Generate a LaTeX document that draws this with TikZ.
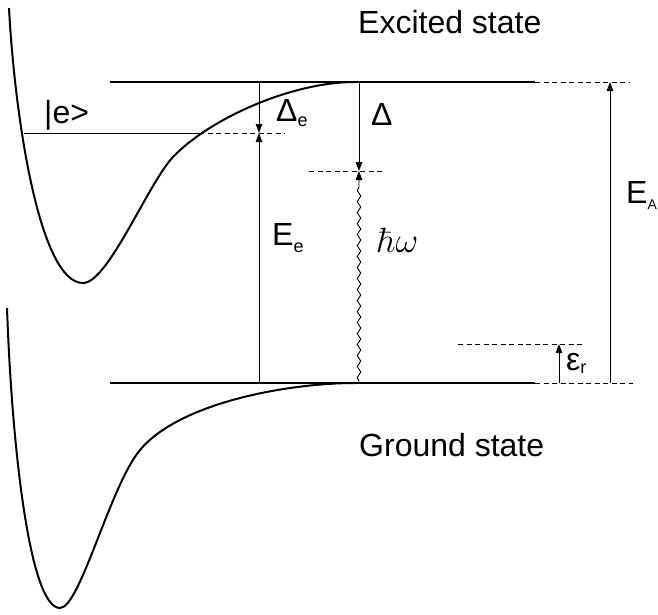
\documentclass[tikz,border=0pt]{standalone}
\usepackage[no-math]{fontspec}
\setmainfont{Liberation Sans}
\usepackage{tikz}
\usetikzlibrary{arrows.meta,decorations.pathmorphing}

\begin{document}
\begin{tikzpicture}[
        x=1pt, y=-1pt,
        level/.style={
            line width=2.2pt
        },
        potential/.style={
            line width=2pt
        },
        thinline/.style={
            line width=0.9pt
        },
        guide/.style={
            line width=0.9pt,
            dash pattern=on 5pt off 3.5pt
        },
        arrow/.style={
            -{Triangle[length=9pt,width=6.5pt]},
            line width=0.9pt
        },
        wave/.style={
            decorate,
            decoration={snake, amplitude=1.8pt, segment length=11pt,
                pre length=2pt, post length=13pt}
        },
        label/.style={
            font=\fontsize{32}{36}\selectfont,
            inner sep=0pt,
            anchor=base west
        }
    ]
        \useasboundingbox (0,0) rectangle (658,614);

        % levels
        \coordinate (exleft) at (110,82);
        \coordinate (exright) at (535,82);
        \coordinate (exend) at (630,82);
        \coordinate (gsleft) at (110,383);
        \coordinate (gsright) at (535,383);
        \coordinate (gsend) at (633,383);

        \draw[level] (exleft) -- (exright);
        \draw[level] (gsleft) -- (gsright);
        \draw[guide] (exright) -- (exend);
        \draw[guide] (gsright) -- (gsend);

        % potential curves
        \draw[potential] (9,8) .. controls (15,120) and (40,283) .. (83,283)
            .. controls (108,283) and (148,183.5) .. (173,157)
            .. controls (208,120) and (290,82) .. (355,82);
        \draw[potential] (7,308) .. controls (12,450) and (30,608) .. (60,608)
            .. controls (80,608) and (110,486) .. (140,450)
            .. controls (180,402) and (290,383) .. (355,383);

        % |e> level
        \coordinate (ewall) at (24,133);
        \coordinate (ecross) at (199,133);
        \coordinate (eend) at (285,133);
        \draw[thinline] (ewall) -- (ecross);
        \draw[guide] (ecross) -- (eend);

        % Delta_e and E_e
        \coordinate (detop) at (259,82);
        \coordinate (demid) at (259,133);
        \coordinate (debot) at (259,383);
        \draw[arrow] (detop) -- (demid);
        \draw[arrow] (debot) -- (demid);

        % Delta and hbar omega
        \coordinate (dtop) at (359,82);
        \coordinate (dmid) at (359,171);
        \coordinate (dbot) at (359,383);
        \coordinate (dleft) at (309,171);
        \coordinate (dright) at (383,171);
        \draw[guide] (dleft) -- (dright);
        \draw[arrow] (dtop) -- (dmid);
        \draw[arrow, wave] (dbot) -- (dmid);

        % E_A
        \coordinate (eatop) at (610,82);
        \coordinate (eabot) at (610,383);
        \draw[arrow] (eabot) -- (eatop);

        % epsilon_r
        \coordinate (erleft) at (458,344);
        \coordinate (erright) at (585,344);
        \coordinate (ertop) at (559,344);
        \coordinate (erbot) at (559,383);
        \draw[guide] (erleft) -- (erright);
        \draw[arrow] (erbot) -- (ertop);

        % labels
        \node[label] (excited) at (358,33) {Excited state};
        \node[label] (ground) at (359,456) {Ground state};
        \node[label] (ket) at (44,123) {|e>};
        \node[label] (delta) at (371,125) {Δ};
        \node[label] (deltae) at (276,121) {Δ\raisebox{-5pt}{\fontsize{18}{18}\selectfont e}};
        \node[label] (energye) at (272,245) {E\raisebox{-7pt}{\fontsize{18}{18}\selectfont e}};
        \node[label] (hw) at (377,252) {\resizebox{41pt}{!}{$\hbar\omega$}};
        \node[label] (energya) at (626,203) {E\raisebox{-6pt}{\fontsize{14}{14}\selectfont A}};
        \node[label] (epsr) at (566,370) {ε\raisebox{-3pt}{\fontsize{18}{18}\selectfont r}};

    \end{tikzpicture}
\end{document}
